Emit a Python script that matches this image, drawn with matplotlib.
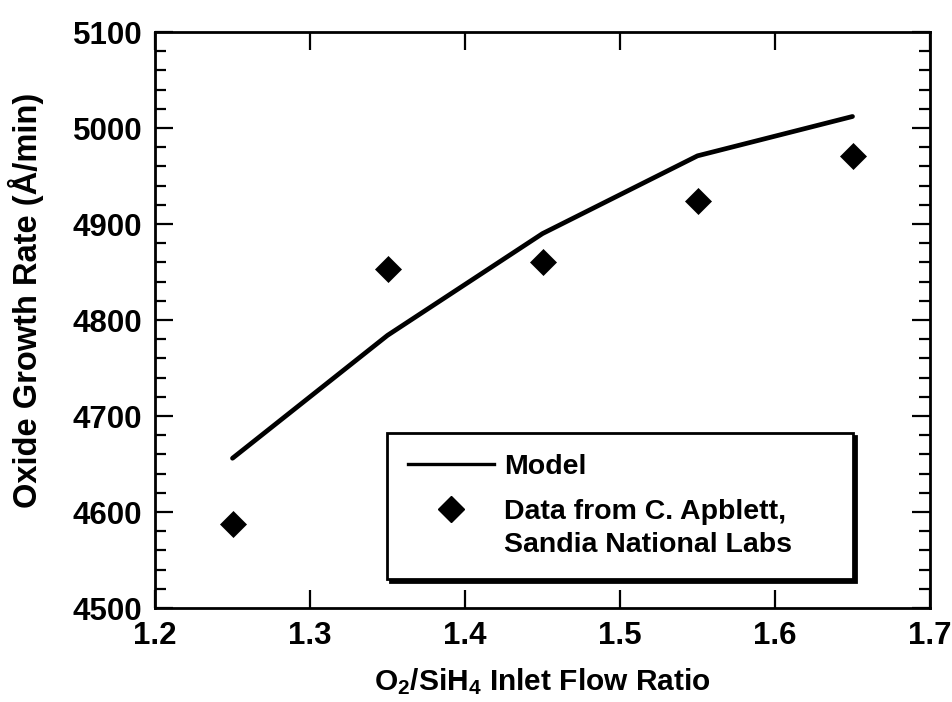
import matplotlib
matplotlib.use("Agg")
import matplotlib.pyplot as plt
from matplotlib.lines import Line2D
from matplotlib.ticker import MultipleLocator

# ---- data ----
model_x = [1.25, 1.35, 1.45, 1.55, 1.65]
model_y = [4656, 4784, 4890, 4971, 5012]
data_x = [1.25, 1.35, 1.45, 1.55, 1.65]
data_y = [4588, 4853, 4860, 4924, 4971]
x_ticks = [1.2, 1.3, 1.4, 1.5, 1.6, 1.7]
y_ticks = [4500, 4600, 4700, 4800, 4900, 5000, 5100]
legend_labels = ["Model", "Data from C. Apblett,\nSandia National Labs"]

plt.rcParams['font.family'] = ['Liberation Sans', 'DejaVu Sans']
plt.rcParams['font.weight'] = 'bold'
plt.rcParams['mathtext.fontset'] = 'custom'
plt.rcParams['mathtext.rm'] = 'Liberation Sans:bold'
plt.rcParams['mathtext.bf'] = 'Liberation Sans:bold'
plt.rcParams['mathtext.default'] = 'rm'

fig = plt.figure(figsize=(9.53, 7.02), dpi=100)
ax = fig.add_axes([155/953, 1 - 608/702, 775/953, 576/702])

ax.plot(model_x, model_y, color='black', lw=3.4, solid_capstyle='round', solid_joinstyle='round')
ax.plot(data_x, data_y, linestyle='none', marker='D', markersize=13.5, color='black', mec='black', mew=0.5)

ax.set_xlim(1.2, 1.7)
ax.set_ylim(4500, 5100)
ax.set_xticks(x_ticks)
ax.set_xticklabels([f"{v:.1f}" for v in x_ticks])
ax.set_yticks(y_ticks)
ax.set_yticklabels([str(v) for v in y_ticks])
ax.yaxis.set_minor_locator(MultipleLocator(20))

for s in ax.spines.values():
    s.set_linewidth(2.0)

ax.tick_params(axis='both', which='major', direction='in', length=13, width=1.6,
               labelsize=22.5, pad=9, top=True, right=True)
ax.tick_params(axis='y', which='minor', direction='in', length=8, width=1.6,
               left=True, right=True)
ax.tick_params(axis='x', which='major', pad=9)

ax.set_xlabel("O$_{2}$/SiH$_{4}$ Inlet Flow Ratio", fontsize=21.5, fontweight='bold', labelpad=11)
ax.set_ylabel("Oxide Growth Rate (Å/min)", fontsize=23.5, fontweight='bold')
ax.yaxis.set_label_coords((44 - 155) / 775, (608 - 300) / 576)

handles = [Line2D([], [], color='black', lw=2.4),
           Line2D([], [], linestyle='none', marker='D', markersize=13.5, color='black')]
leg = ax.legend(handles, legend_labels, loc='upper left',
                bbox_to_anchor=((387-155)/775, (608-582)/576, (853-387)/775, 149/576),
                mode='expand',
                borderaxespad=0, fancybox=False, frameon=True,
                prop={'family': 'Liberation Sans', 'weight': 'bold', 'size': 20.5},
                handlelength=3.0, handletextpad=0.35, labelspacing=0.65,
                borderpad=0.75,
                shadow={'color': 'black', 'alpha': 1.0})
leg.get_frame().set_edgecolor('black')
leg.get_frame().set_linewidth(2.0)
leg.get_texts()[1].set_linespacing(1.35)

# align marker with first line of the two-line label
try:
    for col in leg._legend_handle_box.get_children():
        rows = col.get_children()
        if len(rows) > 1:
            rows[1].align = 'top'
except Exception:
    pass

fig.savefig("out.png", dpi=100)
